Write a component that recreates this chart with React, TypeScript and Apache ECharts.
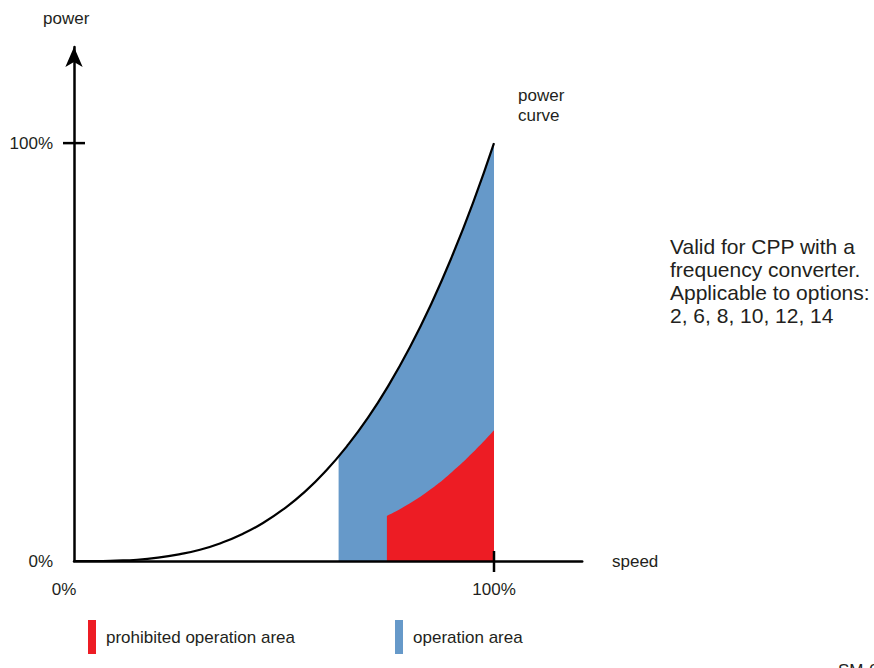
import React, { useEffect, useRef } from "react";
import * as echarts from "echarts";

// Power curve (speed % -> power %)
const curveSpeed = [0, 5, 10, 15, 20, 25, 30, 35, 40, 45, 50, 55, 60, 65, 70, 75, 80, 85, 90, 95, 100];
const curvePower = [0, 0.0, 0.1, 0.3, 0.8, 1.6, 2.7, 4.3, 6.4, 9.1, 12.5, 16.6, 21.6, 27.5, 34.3, 42.2, 51.2, 61.4, 72.9, 85.7, 100];

// Operation area (blue) upper edge
const opSpeed = [63, 65, 70, 75, 80, 85, 90, 95, 100];
const opPower = [25.0, 27.5, 34.3, 42.2, 51.2, 61.4, 72.9, 85.7, 100];

// Prohibited operation area (red) upper edge
const prohSpeed = [74.5, 80, 85, 90, 95, 100];
const prohPower = [10.8, 13.8, 17.2, 21.3, 26.0, 31.3];

const xTickVals = [100];
const yTickVals = [100];

const INK = "#231f20";
const RED = "#ed1c24";
const BLUE = "#6699c9";
const FONT = "'Liberation Sans', Arial, sans-serif";

export default function App() {
  const ref = useRef<HTMLDivElement>(null);
  useEffect(() => {
    if (!ref.current) return;
    const chart = echarts.init(ref.current, null, { renderer: "svg" });
    const zip = (a: number[], b: number[]) => a.map((v, i) => [v, b[i]]);
    const tickData = [
      ...xTickVals.map((v) => [v, 0, 1]),
      ...yTickVals.map((v) => [0, v, 0]),
    ];
    chart.setOption({
      animation: false,
      textStyle: { fontFamily: FONT },
      grid: { left: 74, right: 291.8, top: 47, bottom: 107, containLabel: false },
      legend: {
        data: ["prohibited operation area", "operation area"],
        left: 88,
        top: 620,
        icon: "rect",
        itemWidth: 8,
        itemHeight: 34,
        itemGap: 100,
        padding: 0,
        textStyle: { fontSize: 17, color: INK, fontFamily: FONT, padding: [0, 0, 0, 5] },
        selectedMode: false,
      },
      xAxis: {
        type: "value",
        min: 0,
        max: 121,
        interval: 100,
        z: 10,
        splitLine: { show: false },
        axisLine: { show: true, lineStyle: { color: "#000", width: 2.5 } },
        axisTick: { show: false },
        axisLabel: {
          margin: 20,
          fontSize: 17,
          color: INK,
          fontFamily: FONT,
          showMaxLabel: false,
          formatter: (v: number) => (v === 0 ? "{z|0%}" : v === 100 ? "100%" : ""),
          rich: { z: { fontSize: 17, color: INK, fontFamily: FONT, padding: [0, 20, 0, 0] } },
        },
      },
      yAxis: {
        type: "value",
        min: 0,
        max: 123,
        interval: 100,
        z: 10,
        splitLine: { show: false },
        axisLine: {
          show: true,
          symbol: ["none", "arrow"],
          symbolSize: [13, 20],
          lineStyle: { color: "#000", width: 2.5 },
        },
        axisTick: { show: false },
        axisLabel: {
          margin: 21,
          fontSize: 17,
          color: INK,
          fontFamily: FONT,
          showMaxLabel: false,
          padding: [4, 0, 0, 0],
          formatter: (v: number) => (v === 0 ? "0%" : v === 100 ? "100%" : ""),
        },
      },
      series: [
        {
          name: "operation area",
          type: "line",
          data: zip(opSpeed, opPower),
          smooth: true,
          symbol: "none",
          color: BLUE,
          itemStyle: { color: BLUE },
          lineStyle: { width: 0, color: BLUE },
          areaStyle: { color: BLUE, opacity: 1 },
          z: 2,
        },
        {
          name: "prohibited operation area",
          type: "line",
          data: zip(prohSpeed, prohPower),
          smooth: true,
          symbol: "none",
          color: RED,
          itemStyle: { color: RED },
          lineStyle: { width: 0, color: RED },
          areaStyle: { color: RED, opacity: 1 },
          z: 3,
        },
        {
          name: "power curve",
          type: "line",
          data: zip(curveSpeed, curvePower),
          smooth: true,
          symbol: "none",
          lineStyle: { width: 2.2, color: "#000" },
          z: 4,
        },
        {
          type: "custom",
          coordinateSystem: "cartesian2d",
          data: tickData,
          z: 11,
          clip: false,
          renderItem: (params: any, api: any) => {
            const p = api.coord([api.value(0), api.value(1)]);
            const vertical = api.value(2) === 1;
            return {
              type: "line",
              shape: vertical
                ? { x1: p[0], y1: p[1] - 10, x2: p[0], y2: p[1] + 11 }
                : { x1: p[0] - 11, y1: p[1], x2: p[0] + 11, y2: p[1] },
              style: { stroke: "#000", lineWidth: 2.5 },
            };
          },
        },
      ],
      graphic: [
        { type: "text", left: 43, top: 10, style: { text: "power", fontSize: 17, fill: INK, fontFamily: FONT } },
        { type: "text", left: 612, top: 553, style: { text: "speed", fontSize: 17, fill: INK, fontFamily: FONT } },
        {
          type: "text",
          left: 518,
          top: 85,
          style: { text: "power\ncurve", fontSize: 17, lineHeight: 20, fill: INK, fontFamily: FONT },
        },
        {
          type: "text",
          left: 670,
          top: 235,
          style: {
            text: "Valid for CPP with a\nfrequency converter.\nApplicable to options:\n2, 6, 8, 10, 12, 14",
            fontSize: 21,
            lineHeight: 23,
            fill: INK,
            fontFamily: FONT,
          },
        },
        { type: "text", x: 838, y: 662, style: { text: "SM-0", fontSize: 17, fill: INK, fontFamily: FONT, verticalAlign: "top" } },
      ],
    });
    return () => chart.dispose();
  }, []);
  return <div ref={ref} style={{ position: "absolute", left: 0, top: 0, width: 874, height: 668 }} />;
}
